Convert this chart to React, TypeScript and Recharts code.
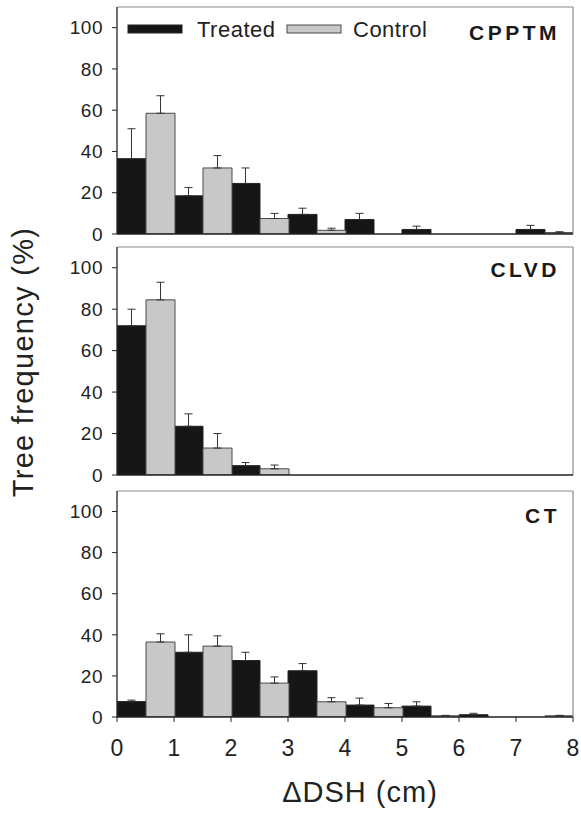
import React from 'react';
import { BarChart, Bar, XAxis, YAxis, ErrorBar, ReferenceLine } from 'recharts';

const bins = ['0-1', '1-2', '2-3', '3-4', '4-5', '5-6', '6-7', '7-8'];
const binMid = [0.5, 1.5, 2.5, 3.5, 4.5, 5.5, 6.5, 7.5];
const xTicks = [0, 1, 2, 3, 4, 5, 6, 7, 8];
const yTicks = [0, 20, 40, 60, 80, 100];

const cpptmTreated = [36.5, 18.5, 24.5, 9.5, 7, 2.2, 0, 2.2];
const cpptmTreatedErr = [14.5, 4, 7.5, 3, 3, 1.6, 0, 2];
const cpptmControl = [58.5, 32, 7.5, 1.8, 0, 0, 0, 0.7];
const cpptmControlErr = [8.5, 6, 2.5, 1, 0, 0, 0, 0.4];

const clvdTreated = [72, 23.5, 4.5, 0, 0, 0, 0, 0];
const clvdTreatedErr = [8, 6, 1.5, 0, 0, 0, 0, 0];
const clvdControl = [84.5, 13, 3, 0, 0, 0, 0, 0];
const clvdControlErr = [8.5, 7, 1.8, 0, 0, 0, 0, 0];

const ctTreated = [7.5, 31.5, 27.5, 22.5, 5.8, 5.3, 1.1, 0];
const ctTreatedErr = [0.7, 8.5, 4, 3.5, 3.4, 2.1, 0.7, 0];
const ctControl = [36.5, 34.5, 16.5, 7.4, 4.5, 0.6, 0, 0.6];
const ctControlErr = [4, 5, 3, 2, 2.1, 0.2, 0, 0.2];

const FONT = '"Liberation Sans", Arial, sans-serif';
const BLACK = '#161616';
const GRAY = '#c8c8c8';

function build(t: number[], te: number[], c: number[], ce: number[]) {
  return bins.map((b, i) => ({
    bin: b,
    mid: binMid[i],
    treated: t[i],
    treatedErr: te[i] > 0 ? [0, te[i]] : null,
    control: c[i],
    controlErr: ce[i] > 0 ? [0, ce[i]] : null,
  }));
}

const cpptmData = build(cpptmTreated, cpptmTreatedErr, cpptmControl, cpptmControlErr);
const clvdData = build(clvdTreated, clvdTreatedErr, clvdControl, clvdControlErr);
const ctData = build(ctTreated, ctTreatedErr, ctControl, ctControlErr);

type PanelProps = {
  data: any[];
  top: number;
  height: number;
  marginTop: number;
  axisHeight: number;
  showXLabels: boolean;
  children?: React.ReactNode;
};

function Panel({ data, top, height, marginTop, axisHeight, showXLabels, children }: PanelProps) {
  return (
    <div style={{ position: 'absolute', left: 0, top, width: 581, height }}>
      <BarChart
        width={581}
        height={height}
        data={data}
        margin={{ top: marginTop, right: 8, left: 0, bottom: 0 }}
        barCategoryGap={0}
        barGap={0}
      >
        <ReferenceLine y={110} stroke="#8a8a8a" strokeWidth={1.2} ifOverflow="extendDomain" />
        <ReferenceLine x={8} stroke="#8a8a8a" strokeWidth={1.2} ifOverflow="extendDomain" />
        <XAxis
          dataKey="mid"
          type="number"
          domain={[0, 8]}
          ticks={xTicks}
          allowDataOverflow
          height={axisHeight}
          interval={0}
          axisLine={{ stroke: '#222', strokeWidth: 1.3 }}
          tickLine={{ stroke: '#222' }}
          tickSize={5}
          tickMargin={18}
          tick={showXLabels ? { fill: '#222', fontSize: 23, fontFamily: FONT } : false}
          tickFormatter={showXLabels ? undefined : () => ''}
        />
        <YAxis
          type="number"
          domain={[0, 110]}
          ticks={yTicks}
          allowDataOverflow
          width={117}
          interval={0}
          axisLine={{ stroke: '#222', strokeWidth: 1.3 }}
          tickLine={{ stroke: '#222' }}
          tickSize={5}
          tickMargin={9}
          tick={{ fill: '#222', fontSize: 19, fontFamily: FONT, letterSpacing: 0.5 }}
        />
        <Bar dataKey="treated" fill={BLACK} stroke="#222" strokeWidth={1} isAnimationActive={false}>
          <ErrorBar dataKey="treatedErr" width={4} stroke="#333" strokeWidth={1} direction="y" />
        </Bar>
        <Bar dataKey="control" fill={GRAY} stroke="#4a4a4a" strokeWidth={1} isAnimationActive={false}>
          <ErrorBar dataKey="controlErr" width={4} stroke="#333" strokeWidth={1} direction="y" />
        </Bar>
        {children}
      </BarChart>
    </div>
  );
}

const panelLabelStyle = {
  fontSize: 21,
  fontWeight: 'bold' as const,
  fontFamily: FONT,
  fill: '#1a1a1a',
  letterSpacing: 3.5,
};

export default function App() {
  return (
    <div style={{ position: 'absolute', left: 0, top: 0, width: 581, height: 822, background: '#fff' }}>
      <style>{'.recharts-surface{overflow:visible}'}</style>
      <Panel data={cpptmData} top={0} height={252} marginTop={7} axisHeight={18} showXLabels={false}>
        <rect x={128} y={25} width={54} height={8} fill={BLACK} stroke="#222" />
        <text x={197} y={37} fontSize={22} fontFamily={FONT} fill="#222" letterSpacing={0.5}>
          Treated
        </text>
        <rect x={287} y={25} width={54} height={8} fill={GRAY} stroke="#4a4a4a" />
        <text x={353} y={37} fontSize={22} fontFamily={FONT} fill="#222" letterSpacing={0.5}>
          Control
        </text>
        <text x={560} y={40} textAnchor="end" style={panelLabelStyle}>
          CPPTM
        </text>
      </Panel>
      <Panel data={clvdData} top={238} height={252} marginTop={9} axisHeight={15} showXLabels={false}>
        <text x={560} y={39} textAnchor="end" style={panelLabelStyle}>
          CLVD
        </text>
      </Panel>
      <Panel data={ctData} top={484} height={338} marginTop={7} axisHeight={105} showXLabels={true}>
        <text x={560} y={39} textAnchor="end" style={panelLabelStyle}>
          CT
        </text>
      </Panel>
      <svg
        width={581}
        height={822}
        style={{ position: 'absolute', left: 0, top: 0, pointerEvents: 'none' }}
      >
        <text
          x={33}
          y={362}
          transform="rotate(-90, 33, 362)"
          textAnchor="middle"
          fontSize={29}
          fontFamily={FONT}
          fill="#222"
          letterSpacing={1.3}
        >
          Tree frequency (%)
        </text>
        <text x={360} y={802} textAnchor="middle" fontSize={29} fontFamily={FONT} fill="#222" letterSpacing={1}>
          ΔDSH (cm)
        </text>
      </svg>
    </div>
  );
}
